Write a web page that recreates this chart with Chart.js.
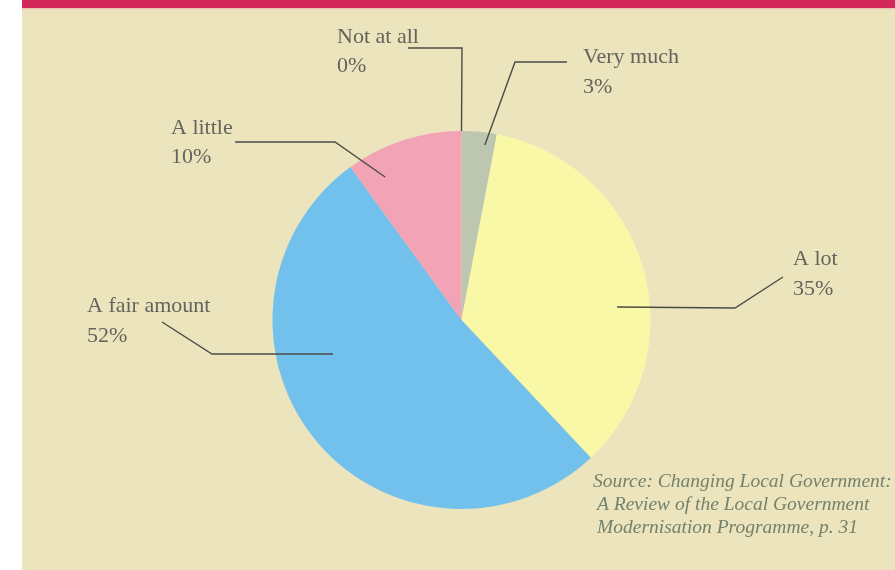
<!DOCTYPE html>
<html>
<head>
<meta charset="utf-8">
<script src="https://cdn.jsdelivr.net/npm/chart.js@4/dist/chart.umd.min.js"></script>
<style>
  html, body { margin: 0; padding: 0; background: #ffffff; }
  #wrap { width: 895px; height: 570px; position: relative; }
  canvas { display: block; }
</style>
</head>
<body>
<div id="wrap"><canvas id="c" width="895" height="570"></canvas></div>
<script>
// ---- data ----
const categories = ['Very much', 'A lot', 'A fair amount', 'A little', 'Not at all'];
const values = [3, 35, 52, 10, 0];
const sourceLines = [
  'Source: Changing Local Government:',
  'A Review of the Local Government',
  'Modernisation Programme, p. 31'
];

// ---- styling / layout ----
const sliceColors = ['#bcc6b0', '#f9f8a6', '#72c1ec', '#f2a3b5', '#d9d9d0'];
const labelLayout = {
  'Very much':     { x: 583, y: 63,  lineGap: 30, path: [[567, 62], [515, 62]],  end: [7.6, 0.934] },
  'A lot':         { x: 793, y: 265, lineGap: 30, path: [[783, 277], [735, 308]], end: [85.2, 0.826] },
  'A fair amount': { x: 87,  y: 312, lineGap: 30, path: [[162, 322], [212, 354]], end: [255.2, 0.703] },
  'A little':      { x: 171, y: 134, lineGap: 29, path: [[235, 142], [335, 142]], end: [331.9, 0.858] },
  'Not at all':    { x: 337, y: 43,  lineGap: 29, path: [[408, 48], [462, 48]],   end: [0, 1.0] }
};

const backgroundPlugin = {
  id: 'panelBackground',
  beforeDraw(chart) {
    const ctx = chart.ctx;
    ctx.save();
    ctx.fillStyle = '#ffffff';
    ctx.fillRect(0, 0, chart.width, chart.height);
    ctx.fillStyle = '#ece4bd';
    ctx.fillRect(22, 8, chart.width - 22, chart.height - 8);
    ctx.fillStyle = '#d3285a';
    ctx.fillRect(22, 0, chart.width - 22, 8);
    ctx.fillStyle = '#e9c7b2';
    ctx.fillRect(22, 8, chart.width - 22, 1.5);
    ctx.restore();
  }
};

const labelPlugin = {
  id: 'leaderLabels',
  afterDatasetsDraw(chart) {
    const ctx = chart.ctx;
    const meta = chart.getDatasetMeta(0);
    const arc0 = meta.data[0];
    const cx = arc0.x, cy = arc0.y, R = arc0.outerRadius;
    ctx.save();
    chart.data.labels.forEach((name, i) => {
      const L = labelLayout[name];
      if (!L) return;
      const ang = L.end[0] * Math.PI / 180;
      const ex = cx + R * L.end[1] * Math.sin(ang);
      const ey = cy - R * L.end[1] * Math.cos(ang);
      ctx.strokeStyle = '#4b4b45';
      ctx.lineWidth = 1.4;
      ctx.beginPath();
      ctx.moveTo(L.path[0][0], L.path[0][1]);
      for (let k = 1; k < L.path.length; k++) ctx.lineTo(L.path[k][0], L.path[k][1]);
      ctx.lineTo(ex, ey);
      ctx.stroke();
      ctx.fillStyle = '#64645c';
      ctx.font = '22px "Liberation Serif", "DejaVu Serif", serif';
      ctx.textBaseline = 'alphabetic';
      ctx.textAlign = 'left';
      ctx.fillText(name, L.x, L.y);
      ctx.fillText(chart.data.datasets[0].data[i] + '%', L.x, L.y + L.lineGap);
    });
    // source note
    ctx.fillStyle = '#74826c';
    ctx.font = 'italic 19.5px "Liberation Serif", "DejaVu Serif", serif';
    const sx = [593, 597, 597];
    const sy = [487, 510, 533];
    sourceLines.forEach((t, k) => ctx.fillText(t, sx[k], sy[k]));
    ctx.restore();
  }
};

new Chart(document.getElementById('c'), {
  type: 'pie',
  data: {
    labels: categories,
    datasets: [{
      data: values,
      backgroundColor: sliceColors,
      borderWidth: 0,
      hoverOffset: 0
    }]
  },
  options: {
    responsive: false,
    animation: false,
    events: [],
    layout: { padding: { left: 272.5, right: 244.5, top: 131, bottom: 61 } },
    plugins: { legend: { display: false }, tooltip: { enabled: false } }
  },
  plugins: [backgroundPlugin, labelPlugin]
});
</script>
</body>
</html>
